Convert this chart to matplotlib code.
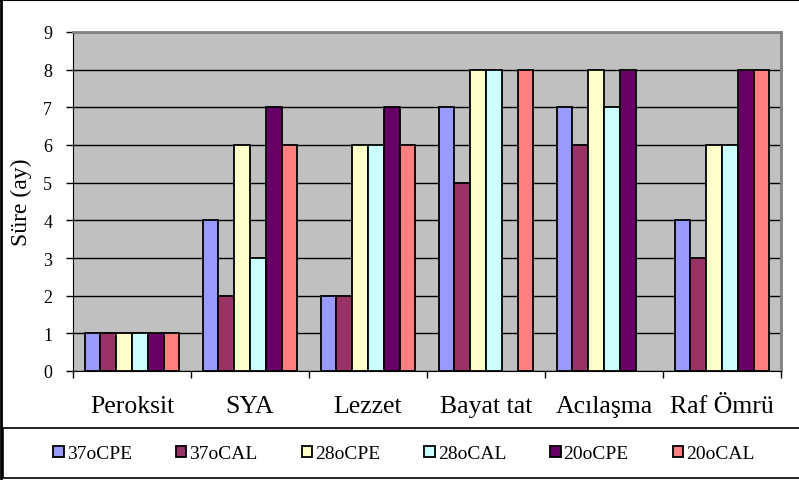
import numpy as np
import matplotlib
matplotlib.use("Agg")
import matplotlib.pyplot as plt
from matplotlib.patches import Rectangle
from matplotlib.lines import Line2D

categories = ["Peroksit", "SYA", "Lezzet", "Bayat tat", "Acılaşma", "Raf Ömrü"]
series_names = ["37oCPE", "37oCAL", "28oCPE", "28oCAL", "20oCPE", "20oCAL"]
v_37PE = [1, 4, 2, 7, 7, 4]
v_37AL = [1, 2, 2, 5, 6, 3]
v_28PE = [1, 6, 6, 8, 8, 6]
v_28AL = [1, 3, 6, 8, 7, 6]
v_20PE = [1, 7, 7, np.nan, 8, 8]
v_20AL = [1, 6, 6, 8, np.nan, 8]
series_values = [v_37PE, v_37AL, v_28PE, v_28AL, v_20PE, v_20AL]
colors = ["#9999FF", "#993366", "#FFFFCC", "#CCFFFF", "#660066", "#FF8080"]
yticks = list(range(0, 10))

plt.rcParams['font.family'] = ['Liberation Serif', 'DejaVu Serif']

W, H = 799, 481
fig = plt.figure(figsize=(W / 100, H / 100), dpi=100)
ax = fig.add_axes([73 / W, 1 - 372 / H, (781 - 73) / W, (372 - 33) / H])
ax.set_facecolor("#C0C0C0")

n = len(series_values)
w = 0.134
x = np.arange(len(categories))
for j, (vals, c, name) in enumerate(zip(series_values, colors, series_names)):
    ax.bar(x + (j - (n - 1) / 2) * w, vals, width=w, color=c, edgecolor="black",
           linewidth=1.3, label=name, zorder=3)

ax.set_xlim(-0.5, len(categories) - 0.5)
ax.set_ylim(0, 9)
ax.set_yticks(yticks)
ax.set_yticklabels([str(t) for t in yticks], fontsize=13)
ax.yaxis.grid(True, color="black", linewidth=1.0, zorder=0)
ax.set_axisbelow(True)

ax.set_xticks(np.arange(len(categories) + 1) - 0.5, minor=False)
ax.set_xticklabels([])
ax.set_xticks(x, minor=True)
ax.set_xticklabels(categories, minor=True, fontsize=18.5)
ax.tick_params(axis="x", which="minor", length=0, pad=17)
ax.tick_params(axis="x", which="major", direction="out", length=5, width=1, color="black")
ax.tick_params(axis="y", direction="out", length=5, width=1, color="black", pad=10)

ax.spines["top"].set_color("#808080")
ax.spines["right"].set_color("#808080")
ax.spines["top"].set_linewidth(2)
ax.spines["right"].set_linewidth(2)
ax.spines["left"].set_color("black")
ax.spines["bottom"].set_color("black")

ax.set_ylabel("Süre (ay)", fontsize=17, labelpad=8)

# Legend box
fig.patches.append(Rectangle((3 / W, 1 - 479 / H), (805 - 3) / W, (479 - 429) / H,
                             transform=fig.transFigure, fill=False,
                             edgecolor="black", linewidth=1.2))
# Outer frame lines (left, top)
fig.lines.append(Line2D([1 / W, 1 / W], [0, 1], transform=fig.transFigure, color="black", linewidth=2))
fig.lines.append(Line2D([0, 1], [1 - 1 / H, 1 - 1 / H], transform=fig.transFigure, color="black", linewidth=1.5))

handles, labels = ax.get_legend_handles_labels()
leg = fig.legend(handles, labels, loc="center", bbox_to_anchor=(404 / W, 1 - 455 / H),
                 ncol=6, frameon=False, fontsize=14, handlelength=0.55, handleheight=0.55,
                 handletextpad=0.15, columnspacing=2.25)

fig.savefig("out.png", dpi=100)
